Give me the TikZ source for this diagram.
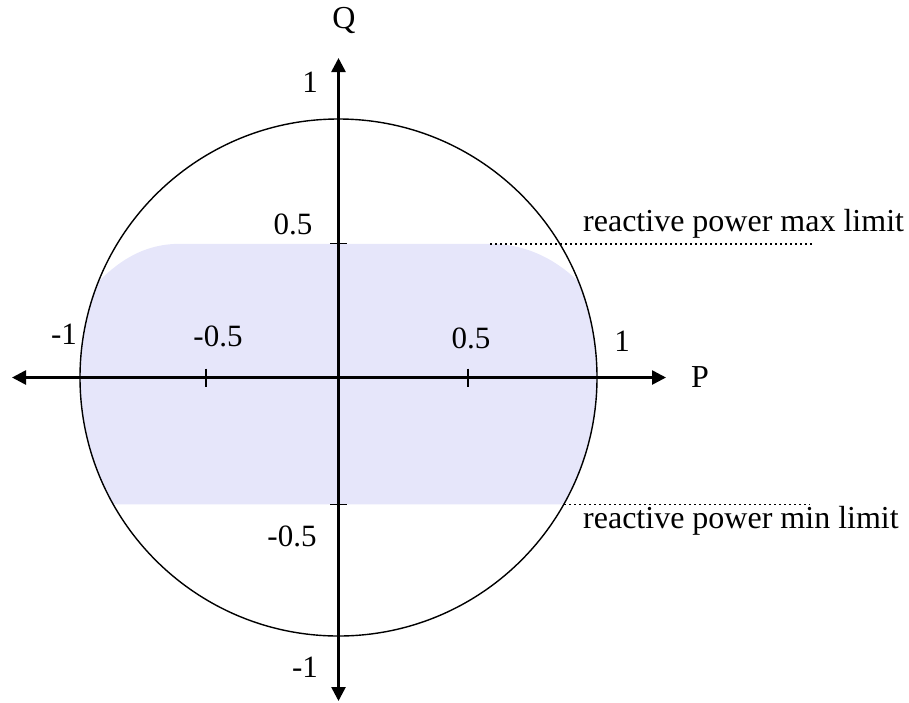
\documentclass[tikz,border=0pt]{standalone}
\usepackage{fontspec}
\setmainfont{Liberation Serif}
\usetikzlibrary{arrows.meta}
\definecolor{lavfill}{RGB}{230,230,250}
\tikzset{
  axis/.style={line width=2.6pt,{Triangle[length=14pt,width=14pt]}-{Triangle[length=14pt,width=14pt]}},
  tickmark/.style={line width=1.3pt},
  limitline/.style={line width=1.4pt,dash pattern=on 1.6pt off 3.4pt},
  lbl/.style={font=\fontsize{32}{32}\selectfont,inner sep=0pt},
  numlbl/.style={font=\fontsize{31}{31}\selectfont,inner sep=0pt}
}
\begin{document}
\begin{tikzpicture}[x=1pt,y=-1pt]
\useasboundingbox (0,0) rectangle (909,702);
\coordinate (O) at (338.5,377.5);
% shaded region clipped by circle
\begin{scope}
\clip (O) circle[radius=258.5pt];
\fill[lavfill] (180,243.8) -- (490,243.8) .. controls (530,243.8) and (560,263) .. (580,283)
  -- (700,283) -- (700,504.3) -- (0,504.3) -- (0,283) -- (97,283)
  .. controls (115,265) and (140,243.8) .. (180,243.8) -- cycle;
\end{scope}
\draw[line width=1.4pt] (O) circle[radius=258.5pt];
% axes
\coordinate (xl) at (12,377.5);
\coordinate (xr) at (666,377.5);
\coordinate (yt) at (338.5,58);
\coordinate (yb) at (338.5,701);
\draw[axis] (xl) -- (xr);
\draw[axis] (yb) -- (yt);
% ticks
\draw[tickmark] (206,368.5) -- (206,386.5);
\draw[tickmark] (468,368.5) -- (468,386.5);
\draw[tickmark] (330,243.3) -- (347,243.3);
\draw[tickmark] (330,504.8) -- (347,504.8);
% limit lines
\coordinate (maxa) at (490,243.8);
\coordinate (maxb) at (812,243.8);
\coordinate (mina) at (564,504.3);
\coordinate (minb) at (810,504.3);
\draw[limitline] (maxa) -- (maxb);
\draw[limitline] (mina) -- (minb);
% labels
\node[lbl] (Q) at (344,20) {Q};
\node[lbl] (P) at (700,377) {P};
\node[numlbl] (t1) at (310,82) {1};
\node[numlbl] (th) at (293,224) {0.5};
\node[numlbl] (bh) at (292,536) {-0.5};
\node[numlbl] (b1) at (305,667) {-1};
\node[numlbl] (l1) at (64,334) {-1};
\node[numlbl] (lh) at (218,336) {-0.5};
\node[numlbl] (rh) at (471,338) {0.5};
\node[numlbl] (r1) at (622,341) {1};
\node[lbl,anchor=base west] (maxl) at (583,231) {reactive power max limit};
\node[lbl,anchor=base west] (minl) at (583,528) {reactive power min limit};
\end{tikzpicture}
\end{document}
